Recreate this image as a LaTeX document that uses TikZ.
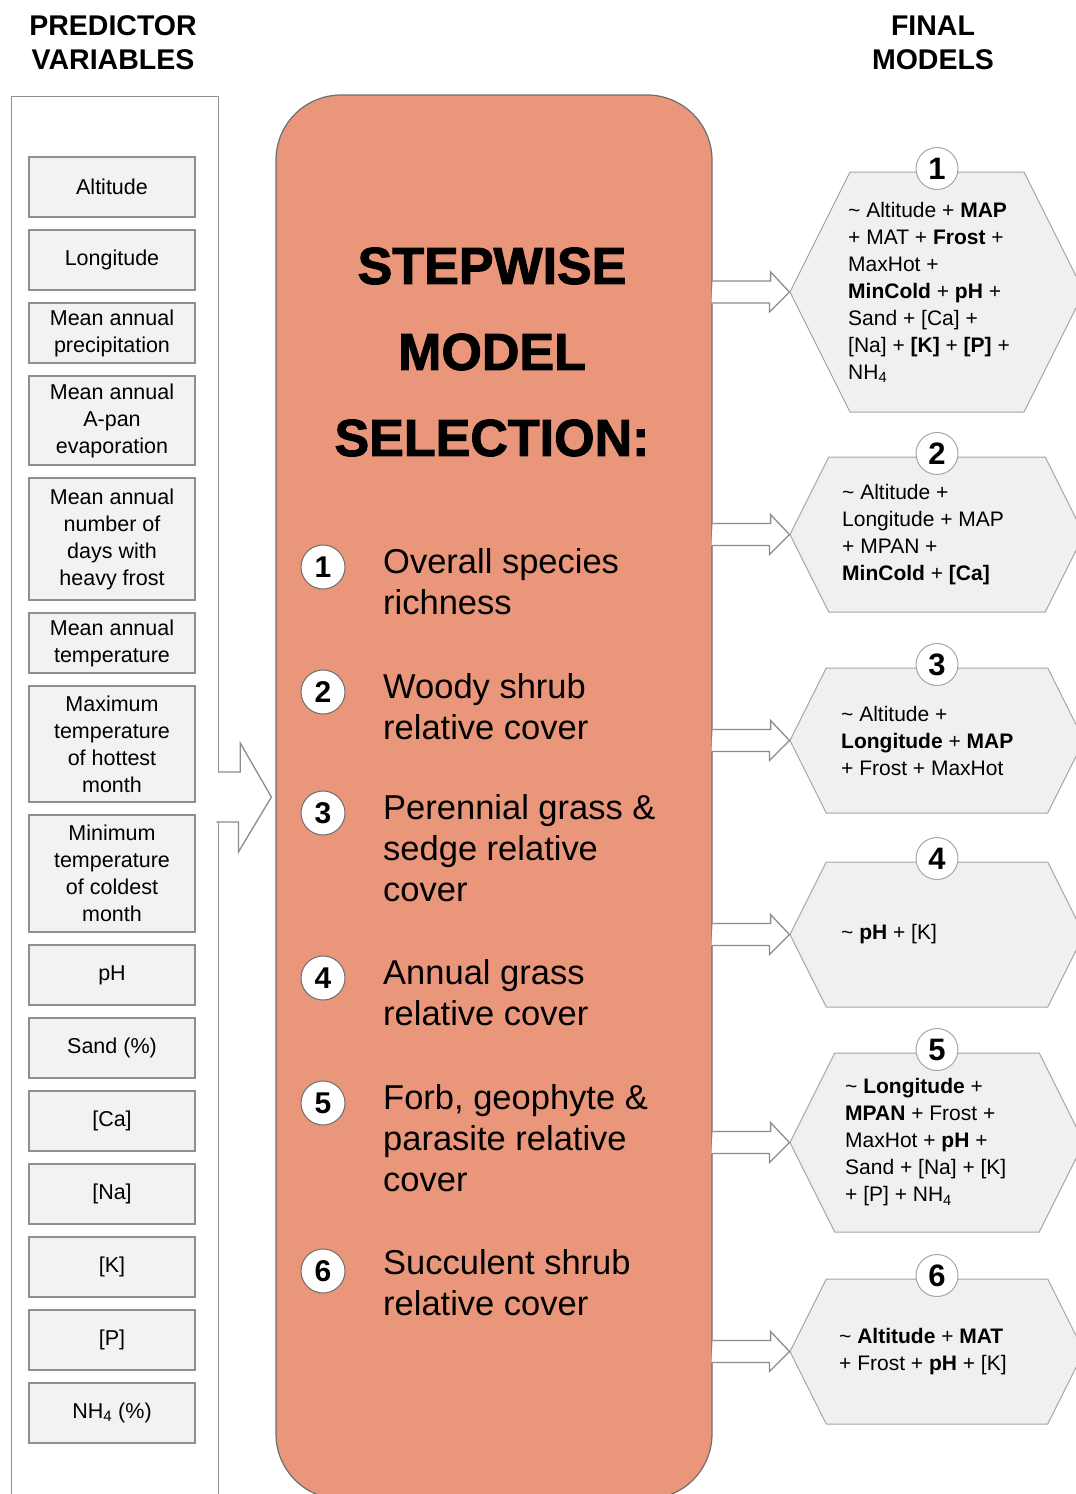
\documentclass[tikz,border=0pt]{standalone}
\usepackage{fontspec}
\setmainfont{Liberation Sans}
\newfontfamily\heavyfont{Liberation Sans}[BoldFeatures={FakeBold=2}]
\usetikzlibrary{positioning}
\usetikzlibrary{calc}
\usetikzlibrary{shapes.symbols}
\definecolor{salmonfill}{HTML}{E9967A}
\definecolor{salmonline}{HTML}{6E6E6E}
\definecolor{boxfill}{HTML}{F2F2F2}
\definecolor{boxline}{HTML}{8F8F8F}
\definecolor{hexfill}{HTML}{F0F0F0}
\definecolor{hexline}{HTML}{A6A6A6}
\definecolor{arrowline}{HTML}{8C8C8C}
\tikzset{
	every node/.style={inner sep=0pt},
	var/.style={
		draw=boxline, fill=boxfill, line width=1.2pt, outer sep=0pt,
		minimum width=166pt, minimum height=60pt,
		align=center, font=\fontsize{21.5}{27}\selectfont},
	num/.style={
		circle, draw=salmonline, fill=white, line width=1pt,
		minimum size=44pt, font=\fontsize{30}{30}\selectfont\bfseries},
	item/.style={
		align=left, anchor=base west,
		font=\fontsize{34.5}{41}\selectfont},
	model/.style={
		signal, signal to=west and east, signal pointer angle=126.87,
		draw=hexline, fill=hexfill, line width=1pt, minimum width=294pt},
	formula/.style={
		align=left, anchor=west,
		font=\fontsize{21}{27}\selectfont},
	hollow/.style={
		draw=arrowline, fill=white, line width=1.3pt, line join=miter},
	head/.style={
		align=center, font=\fontsize{28.5}{34}\selectfont\bfseries}
}
\begin{document}
\begin{tikzpicture}[x=1pt, y=-1pt]
\begin{scope}
\clip (0,0) rectangle (1076,1494);
% predictor variables
\node[head] (hl) at (113,43) {PREDICTOR\\VARIABLES};
\node[draw=boxline, fill=white, line width=1.2pt, minimum width=207pt,
	minimum height=1440pt, anchor=north west] (panel) at (11,96) {};
\node[var] (v1) at (112,187) {Altitude};
\node[var, below=13pt of v1] (v2) {Longitude};
\node[var, below=13pt of v2] (v3) {Mean annual\\precipitation};
\node[var, below=13pt of v3, minimum height=89pt] (v4) {Mean annual\\A-pan\\evaporation};
\node[var, below=13pt of v4, minimum height=122pt] (v5) {Mean annual\\number of\\days with\\heavy frost};
\node[var, below=13pt of v5] (v6) {Mean annual\\temperature};
\node[var, below=13pt of v6, minimum height=116pt] (v7) {Maximum\\temperature\\of hottest\\month};
\node[var, below=13pt of v7, minimum height=117pt] (v8) {Minimum\\temperature\\of coldest\\month};
\node[var, below=13pt of v8] (v9) {pH};
\node[var, below=13pt of v9] (v10) {Sand (\%)};
\node[var, below=13pt of v10] (v11) {[Ca]};
\node[var, below=13pt of v11] (v12) {[Na]};
\node[var, below=13pt of v12] (v13) {[K]};
\node[var, below=13pt of v13] (v14) {[P]};
\node[var, below=13pt of v14] (v15) {NH\textsubscript{4} (\%)};

% stepwise selection
\node[draw=salmonline, fill=salmonfill, line width=1.2pt, rounded corners=65pt,
	minimum width=436pt, minimum height=1404pt] (sel) at (494,797) {};
\draw[hollow] ($(panel.east |- sel.west)+(-1,-25)$) -- ++(22,0) -- ++(0,-29)
	-- ($(sel.west)+(-4,0)$) -- ++(-33,55) -- ++(0,-30) -- ++(-22,0);
\node[align=center, font=\heavyfont\bfseries\fontsize{52}{86}\selectfont] (title)
	at (492,352) {STEPWISE\\MODEL\\SELECTION:};
\node[num] (c1) at (323,567) {1};
\node[num] (c2) at (323,692) {2};
\node[num] (c3) at (323,813) {3};
\node[num] (c4) at (323,978) {4};
\node[num] (c5) at (323,1103) {5};
\node[num] (c6) at (323,1271) {6};
% base = last line, so shift by the lines below the first
\node[item] (s1) at ($(c1)+(60,47)$) {Overall species\\richness};
\node[item] (s2) at ($(c2)+(60,47)$) {Woody shrub\\relative cover};
\node[item] (s3) at ($(c3)+(60,88)$) {Perennial grass \&\\sedge relative\\cover};
\node[item] (s4) at ($(c4)+(60,47)$) {Annual grass\\relative cover};
\node[item] (s5) at ($(c5)+(60,88)$) {Forb, geophyte \&\\parasite relative\\cover};
\node[item] (s6) at ($(c6)+(60,44)$) {Succulent shrub\\relative cover};

% final models
\node[head] (hr) at (933,43) {FINAL\\MODELS};
\node[model, minimum height=240pt] (h1) at (937,292) {};
\node[model, minimum height=155pt] (h2) at (937,534.5) {};
\node[model, minimum height=145pt] (h3) at (937,740.5) {};
\node[model, minimum height=145pt] (h4) at (937,934.5) {};
\node[model, minimum height=179pt] (h5) at (937,1142.5) {};
\node[model, minimum height=145pt] (h6) at (937,1351.5) {};
\foreach \i in {1,...,6}{
	\node[num, draw=hexline, minimum size=42pt, font=\fontsize{31}{31}\selectfont\bfseries]
		(m\i) at ($(h\i.north)+(0,-3)$) {\i};
	\draw[hollow] ($(sel.east |- h\i.west)+(0,-11)$) -- ++(58,0) -- ++(0,-9)
		-- (h\i.west) -- ++(-20,20) -- ++(0,-9) -- ++(-58,0);
}
\node[formula] (f1) at ($(h1.center)+(-89,0)$) {\textasciitilde{} Altitude + \textbf{MAP}\\+ MAT + \textbf{Frost} +\\MaxHot +\\\textbf{MinCold} + \textbf{pH} +\\Sand + [Ca] +\\{}[Na] + \textbf{[K]} + \textbf{[P]} +\\NH\textsubscript{4}};
\node[formula] (f2) at ($(h2.center)+(-95,0)$) {\textasciitilde{} Altitude +\\Longitude + MAP\\+ MPAN +\\\textbf{MinCold} + \textbf{[Ca]}};
\node[formula] (f3) at ($(h3.center)+(-96,0)$) {\textasciitilde{} Altitude +\\\textbf{Longitude} + \textbf{MAP}\\+ Frost + MaxHot};
\node[formula] (f4) at ($(h4.center)+(-96,0)$) {\textasciitilde{} \textbf{pH} + [K]};
\node[formula] (f5) at ($(h5.center)+(-92,0)$) {\textasciitilde{} \textbf{Longitude} +\\\textbf{MPAN} + Frost +\\MaxHot + \textbf{pH} +\\Sand + [Na] + [K]\\+ [P] + NH\textsubscript{4}};
\node[formula] (f6) at ($(h6.center)+(-98,0)$) {\textasciitilde{} \textbf{Altitude} + \textbf{MAT}\\+ Frost + \textbf{pH} + [K]};
\end{scope}
\pgfresetboundingbox
\path[use as bounding box] (0,0) rectangle (1076,1494);
\end{tikzpicture}
\end{document}
